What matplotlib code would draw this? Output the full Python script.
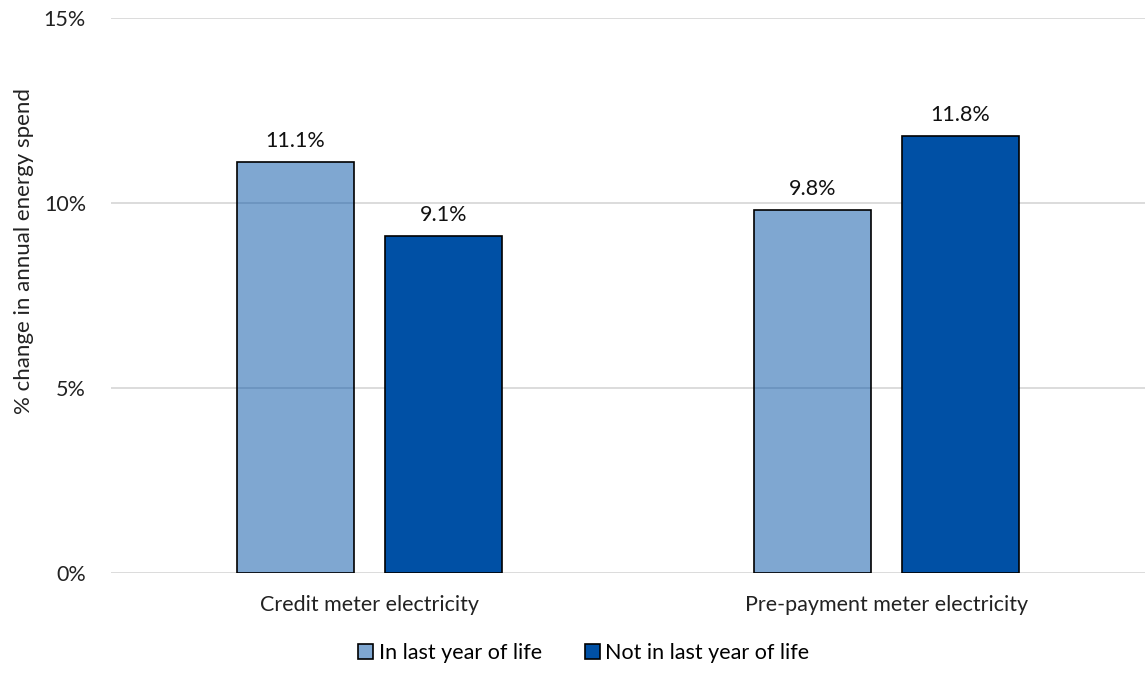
import numpy as np
import matplotlib.pyplot as plt
from matplotlib.ticker import FuncFormatter

categories = ["Credit meter electricity", "Pre-payment meter electricity"]
series_names = ["In last year of life", "Not in last year of life"]
in_last_year = [11.1, 9.8]
not_in_last_year = [9.1, 11.8]
y_ticks = [0, 5, 10, 15]

plt.rcParams['font.family'] = ['Lato', 'DejaVu Sans']

fig = plt.figure(figsize=(11.45, 6.73), dpi=100)
ax = fig.add_axes([0.0969, 0.1486, 0.9031, 0.8247])

x = np.arange(len(categories))
w = 0.226
off = 0.143

dark = '#0050A5'
b1 = ax.bar(x - off, in_last_year, w, color=(0.0, 0.314, 0.647, 0.5),
            edgecolor='black', linewidth=1.2, zorder=3, label=series_names[0])
b2 = ax.bar(x + off, not_in_last_year, w, color=dark,
            edgecolor='black', linewidth=1.2, zorder=3, label=series_names[1])

for bars, vals in [(b1, in_last_year), (b2, not_in_last_year)]:
    for r, v in zip(bars, vals):
        ax.annotate(f"{v:.1f}%", (r.get_x() + r.get_width() / 2, v),
                    xytext=(0, 8), textcoords='offset points',
                    ha='center', va='bottom', fontsize=15.5, color='#111111')

ax.set_xlim(-0.5, 1.5)
ax.set_ylim(0, 15)
ax.set_yticks(y_ticks)
ax.yaxis.set_major_formatter(FuncFormatter(lambda v, p: f"{v:.0f}%"))
ax.set_xticks(x)
ax.set_xticklabels(categories)
ax.grid(axis='y', color='#d9d9d9', linewidth=1.3, zorder=0)
ax.set_axisbelow(True)
for s in ax.spines.values():
    s.set_visible(False)
ax.tick_params(length=0, labelsize=15.5, colors='#222222')
ax.tick_params(axis='x', pad=16)
ax.tick_params(axis='y', pad=18)
ax.set_ylabel("% change in annual energy spend", fontsize=16, color='#222222')
ax.yaxis.set_label_coords(-0.074, 0.58)

fig.legend(handles=[b1, b2], loc='center', bbox_to_anchor=(0.51, 0.03), ncol=2,
           frameon=False, fontsize=15.5, handlelength=0.7, handleheight=0.7,
           handletextpad=0.25, columnspacing=2.0)

fig.savefig("out.png", dpi=100)
